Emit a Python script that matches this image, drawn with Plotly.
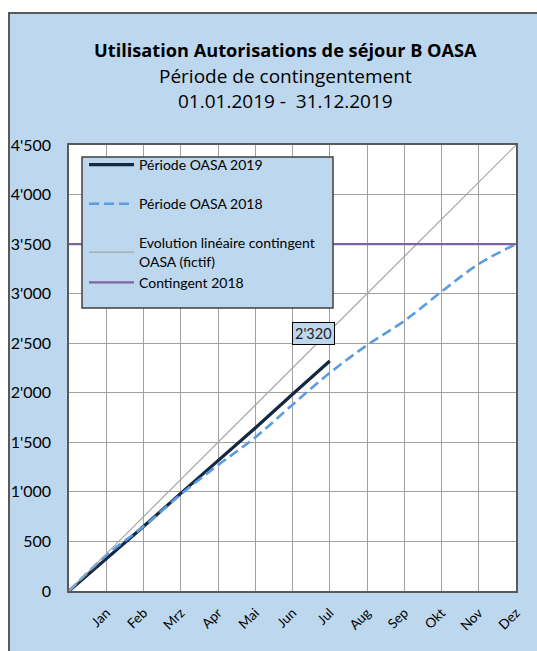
import plotly.graph_objects as go

# ---- data ----
months = ["Jan", "Feb", "Mrz", "Apr", "Mai", "Jun", "Jul", "Aug", "Sep", "Okt", "Nov", "Dez"]
x_2019 = [0, 1, 2, 3, 4, 5, 6, 7]
oasa_2019 = [0, 320, 650, 985, 1310, 1645, 1985, 2320]
x_2018 = [0, 1, 2, 3, 4, 5, 6, 7, 8, 9, 10, 11, 12]
oasa_2018 = [0, 360, 650, 975, 1270, 1550, 1880, 2200, 2480, 2725, 3020, 3300, 3500]
x_lin = [0, 12]
lin_contingent = [0, 4500]
x_cont = [0, 12]
contingent_2018 = [3500, 3500]
last_label = "2'320"

FONT = "Lato"
TFONT = "Open Sans"
BLUE_BG = "#BDD7EE"

W, H = 537, 651
ML, MR, MT, MB = 69, 537 - 516, 145, 651 - 591
PW, PH = W - ML - MR, H - MT - MB

def px_x(rx):
    return (rx - ML) / PW

def px_y(ry):
    return (H - MB - ry) / PH

fig = go.Figure()

fig.add_trace(go.Scatter(x=x_2019, y=oasa_2019, mode="lines", name="Période OASA 2019",
                         line=dict(color="#14283F", width=3.2), legendgroup="a"))
fig.add_trace(go.Scatter(x=x_2018, y=oasa_2018, mode="lines", name="Période OASA 2018",
                         line=dict(color="#5B9BE0", width=2.6, dash="10px,5px", shape="spline", smoothing=1.0),
                         legendgroup="b"))
fig.add_trace(go.Scatter(x=x_lin, y=lin_contingent, mode="lines",
                         name="Evolution linéaire contingent<br>OASA (fictif)",
                         line=dict(color="#A6A6A6", width=1.2), legendgroup="c"))
fig.add_trace(go.Scatter(x=x_cont, y=contingent_2018, mode="lines", name="Contingent 2018",
                         line=dict(color="#8064A2", width=2.2), legendgroup="c"))

fig.add_annotation(x=x_2019[-1], y=oasa_2019[-1], text=last_label, showarrow=False,
                   xshift=-16, yshift=28, bgcolor=BLUE_BG, bordercolor="#000000",
                   borderwidth=1, borderpad=2, font=dict(family=FONT, size=14.5, color="#222"))

# title lines
cx = px_x(285)
title_kw = dict(xref="paper", yref="paper", showarrow=False, xanchor="center", yanchor="middle")
fig.add_annotation(x=cx, y=px_y(50), text="<b>Utilisation Autorisations de séjour B OASA</b>",
                   font=dict(family=TFONT, size=18.2, color="#000"), **title_kw)
fig.add_annotation(x=cx, y=px_y(76), text="Période de contingentement",
                   font=dict(family=TFONT, size=19, color="#000"), **title_kw)
fig.add_annotation(x=cx, y=px_y(101), text="01.01.2019 -  31.12.2019",
                   font=dict(family=TFONT, size=19, color="#000"), **title_kw)

# chart area background (left and top border only) + plot area white
fig.add_shape(type="rect", xref="paper", yref="paper", layer="below",
              x0=px_x(8), x1=px_x(560), y0=px_y(680), y1=px_y(12),
              fillcolor=BLUE_BG, line=dict(width=0))
fig.add_shape(type="line", xref="paper", yref="paper", layer="below",
              x0=px_x(9), x1=px_x(9), y0=px_y(680), y1=px_y(12),
              line=dict(color="#595959", width=2))
fig.add_shape(type="line", xref="paper", yref="paper", layer="below",
              x0=px_x(8), x1=px_x(560), y0=px_y(13), y1=px_y(13),
              line=dict(color="#595959", width=2))
fig.add_shape(type="rect", xref="paper", yref="paper", layer="below",
              x0=0, x1=1, y0=0, y1=1, fillcolor="white", line=dict(width=0))
# legend box
fig.add_shape(type="rect", xref="paper", yref="paper", layer="above",
              x0=px_x(82), x1=px_x(333), y0=px_y(308), y1=px_y(157),
              fillcolor=BLUE_BG, line=dict(color="#404040", width=1.5))

fig.update_layout(
    width=W, height=H,
    margin=dict(l=ML, r=MR, t=MT, b=MB),
    paper_bgcolor="white", plot_bgcolor="white",
    separators=".'",
    font=dict(family=FONT, color="#000"),
    showlegend=True,
    legend=dict(x=px_x(84), y=px_y(149), xanchor="left", yanchor="top",
                bgcolor="rgba(0,0,0,0)", borderwidth=0,
                font=dict(family=FONT, size=14, color="#000"),
                tracegroupgap=18, itemwidth=45, traceorder="grouped"),
)

fig.update_xaxes(range=[0, 12], tickmode="array", tickvals=list(range(1, 13)), ticktext=months,
                 tickangle=-45, showgrid=True, gridcolor="#A0A0A0", gridwidth=1,
                 showline=True, linecolor="#595959", linewidth=1.5, mirror=True,
                 ticks="", ticklabelstandoff=7,
                 tickfont=dict(family=FONT, size=13.5, color="#000"), zeroline=False)
fig.update_yaxes(range=[0, 4500], dtick=500, tick0=0, tickformat=",d",
                 showgrid=True, gridcolor="#A0A0A0", gridwidth=1,
                 showline=True, linecolor="#595959", linewidth=1.5, mirror=True,
                 ticks="", ticklabelstandoff=13,
                 tickfont=dict(family=FONT, size=16, color="#000"), zeroline=False)

fig.write_html("out.html",
               config={"displayModeBar": False},
               post_script="document.body.style.margin='0';"
                           "document.documentElement.style.overflow='hidden';")
